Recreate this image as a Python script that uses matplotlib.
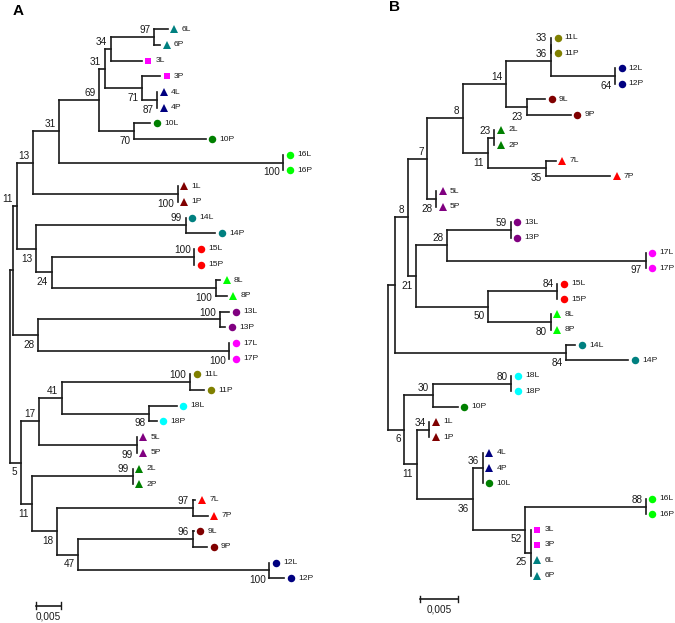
import matplotlib
matplotlib.use('Agg')
import matplotlib.pyplot as plt
from matplotlib import transforms
from matplotlib.collections import LineCollection

plt.rcParams['font.family'] = ['Liberation Sans', 'DejaVu Sans']

# trees in Newick form: branch lengths in substitutions/site, bootstrap as node label
tree_a = """
(
  (
    (
      (
        (
          (
            (
              ((6L:0.00264,6P:0.00118)97:0.00866,3L:0.00616)34:0.0012,
              (3P:0.00358,(4L:0,4P:0)87:0.003)71:0.00746
            )31:0.00114,
            (10L:0.00318,10P:0.0143)70:0.007
          )69:0.008,
          (16L:0,16P:0)100:0.0448
        )31:0.0052,
        (1L:0,1P:0)100:0.02888
      )13:0.00332,
      (
        (14L:0,14P:0.0059)99:0.02994,
        ((15L:0,15P:0)100:0.02852,(8L:0.00084,8P:0.00216)100:0.03286)24:0.00314
      )13:0.00386
    )11:0.0008,
    ((13L:0.0019,13P:0.00104)100:0.03646,(17L:0,17P:0)100:0.03832)28:0.005
  ):0.00054,
  (
    (
      ((11L:0,11P:0.0029)100:0.02566,(18L:0.00556,18P:0.00156)98:0.01746)41:0.00448,
      (5L:0,5P:0)99:0.01948
    )17:0.00366,
    (
      (2L:0,2P:0)99:0.02008,
      (
        (7L:0.0005,7P:0.00302)97:0.0272,
        ((9L:0.00016,9P:0.0029)96:0.02288,(12L:0,12P:0.003)100:0.0382)47:0.00432
      )18:0.00488
    )11:0.00226
  )5:0.0022
);
"""

tree_b = """
(
  (
    (
      (
        (
          (
            ((11L:0,11P:0)33:0,(12L:0,12P:0)64:0.00849)36:0.00597,
            (9L:0.00245,9P:0.00585)23:0.00275
          )14:0.00566,
          ((2L:0,2P:0)23:0.00088,(7L:0.0013,7P:0.00851)35:0.00773)11:0.00324
        )8:0.00477,
        (5L:0,5P:0)28:0.00115
      )7:0.0026,
      (
        ((13L:0,13P:0)59:0.00841,(17L:0,17P:0)97:0.02631)28:0.00415,
        ((15L:0,15P:0)84:0.00915,(8L:0,8P:0)80:0.00828)50:0.00959
      )21:0.0011
    )8:0.00168,
    (14L:0.00122,14P:0.00829)84:0.02268
  ):0.00095,
  (
    ((18L:0,18P:0)80:0.01038,10P:0.00329)30:0.00377,
    (
      (1L:0,1P:0)34:0.00167,
      (
        (4L:0,4P:0,10L:0)36:0.00133,
        ((16L:0,16P:0)88:0.01601,(3L:0,3P:0,6L:0,6P:0)25:0.00076)52:0.00694
      )36:0.00743
    )11:0.00164
  )6:0.00219
);
"""

scale_len = 0.005

# marker and colour per isolate
styles = {
    '1': ('^', '#800000'), '2': ('^', '#008000'), '3': ('s', '#ff00ff'),
    '4': ('^', '#000080'), '5': ('^', '#800080'), '6': ('^', '#008080'),
    '7': ('^', '#ff0000'), '8': ('^', '#00ff00'), '9': ('o', '#800000'),
    '10': ('o', '#008000'), '11': ('o', '#808000'), '12': ('o', '#000080'),
    '13': ('o', '#800080'), '14': ('o', '#008080'), '15': ('o', '#ff0000'),
    '16': ('o', '#00ff00'), '17': ('o', '#ff00ff'), '18': ('o', '#00ffff'),
}


def parse(text):
    s = ''.join(text.split())
    pos = 0

    def node():
        nonlocal pos
        children = []
        if s[pos] == '(':
            pos += 1
            children.append(node())
            while s[pos] == ',':
                pos += 1
                children.append(node())
            pos += 1
        start = pos
        while s[pos] not in ':,);':
            pos += 1
        name = s[start:pos]
        length = 0.0
        if s[pos] == ':':
            pos += 1
            start = pos
            while s[pos] not in ',);':
                pos += 1
            length = float(s[start:pos])
        return {'name': name, 'len': length, 'children': children}

    return node()


def layout(n, x0, tips, parent=None):
    n['x'] = x0 + n['len']
    n['parent'] = parent
    if n['children']:
        for c in n['children']:
            layout(c, n['x'], tips, n)
        n['y'] = (n['children'][0]['y'] + n['children'][-1]['y']) / 2
    else:
        n['y'] = len(tips)
        tips.append(n)


def walk(n):
    yield n
    for c in n['children']:
        yield from walk(c)


def draw_tree(ax, text):
    root = parse(text)
    tips = []
    layout(root, 0.0, tips)
    segs = []
    for n in walk(root):
        if not n['children']:
            continue
        ch = n['children']
        segs.append([(n['x'], ch[0]['y']), (n['x'], ch[-1]['y'])])
        for c in ch:
            segs.append([(n['x'], c['y']), (c['x'], c['y'])])
        p = n['parent']
        if n['name'] and p is not None:
            upper = p['children'][0] is n
            ax.annotate(n['name'], (n['x'], n['y']),
                        xytext=(-2.6, 5.0 if upper else -7.0),
                        textcoords='offset points', ha='right', va='center',
                        fontsize=7.2, color='#1a1a1a')
    ax.add_collection(LineCollection(segs, colors='#1a1a1a', linewidths=1.2,
                                     capstyle='projecting'))
    mk_tr = transforms.offset_copy(ax.transData, fig=ax.figure, x=4.8, units='points')
    for t in tips:
        m, c = styles[t['name'][:-1]]
        ax.plot(t['x'], t['y'], marker=m, color=c, markeredgewidth=0,
                markersize=5.6 if m == '^' else (4.8 if m == 's' else 5.4),
                transform=mk_tr, linestyle='none')
        ax.annotate(t['name'], (t['x'], t['y']), xytext=(10.0, 0),
                    textcoords='offset points', ha='left', va='center',
                    fontsize=6.1, color='#1a1a1a')


W, H = 675, 623
fig = plt.figure(figsize=(W / 100, H / 100), dpi=100)

# panel A: root at px 10, 5000 px per unit, tips from y 29.3 to 578.3
ax_a = fig.add_axes([0, 0, 337 / W, 1])
draw_tree(ax_a, tree_a)
sa = (578.3 - 29.3) / 35
ax_a.set_xlim(-10 / 5000, 327 / 5000)
ax_a.set_ylim(35 + (H - 578.3) / sa, -29.3 / sa)

# panel B: root at px 387.8, 7540 px per unit, tips from y 37.7 to 575.7
ax_b = fig.add_axes([337 / W, 0, 338 / W, 1])
draw_tree(ax_b, tree_b)
sb = (575.7 - 37.7) / 35
ax_b.set_xlim((337 - 387.8) / 7540, (675 - 387.8) / 7540)
ax_b.set_ylim(35 + (H - 575.7) / sb, -37.7 / sb)

# scale bars
for ax, x0, y0 in [(ax_a, (35.7 - 10) / 5000, (605.7 - 29.3) / sa),
                   (ax_b, (420 - 387.8) / 7540, (599 - 37.7) / sb)]:
    ax.plot([x0, x0 + scale_len], [y0, y0], color='#1a1a1a', lw=1.2)
    for xe in (x0, x0 + scale_len):
        ax.plot([xe, xe], [y0 - 0.22, y0 + 0.22], color='#1a1a1a', lw=1.0)
    ax.annotate('0,005', (x0 + scale_len / 2, y0), xytext=(0, -7.5),
                textcoords='offset points', ha='center', va='center',
                fontsize=7.2, color='#1a1a1a')

for ax in (ax_a, ax_b):
    ax.axis('off')

fig.text(18.3 / W, 1 - 10.7 / H, 'A', fontsize=11, fontweight='bold',
         ha='center', va='center')
fig.text(395 / W, 1 - 7.3 / H, 'B', fontsize=11, fontweight='bold',
         ha='center', va='center')

fig.savefig('out.png', dpi=100)
